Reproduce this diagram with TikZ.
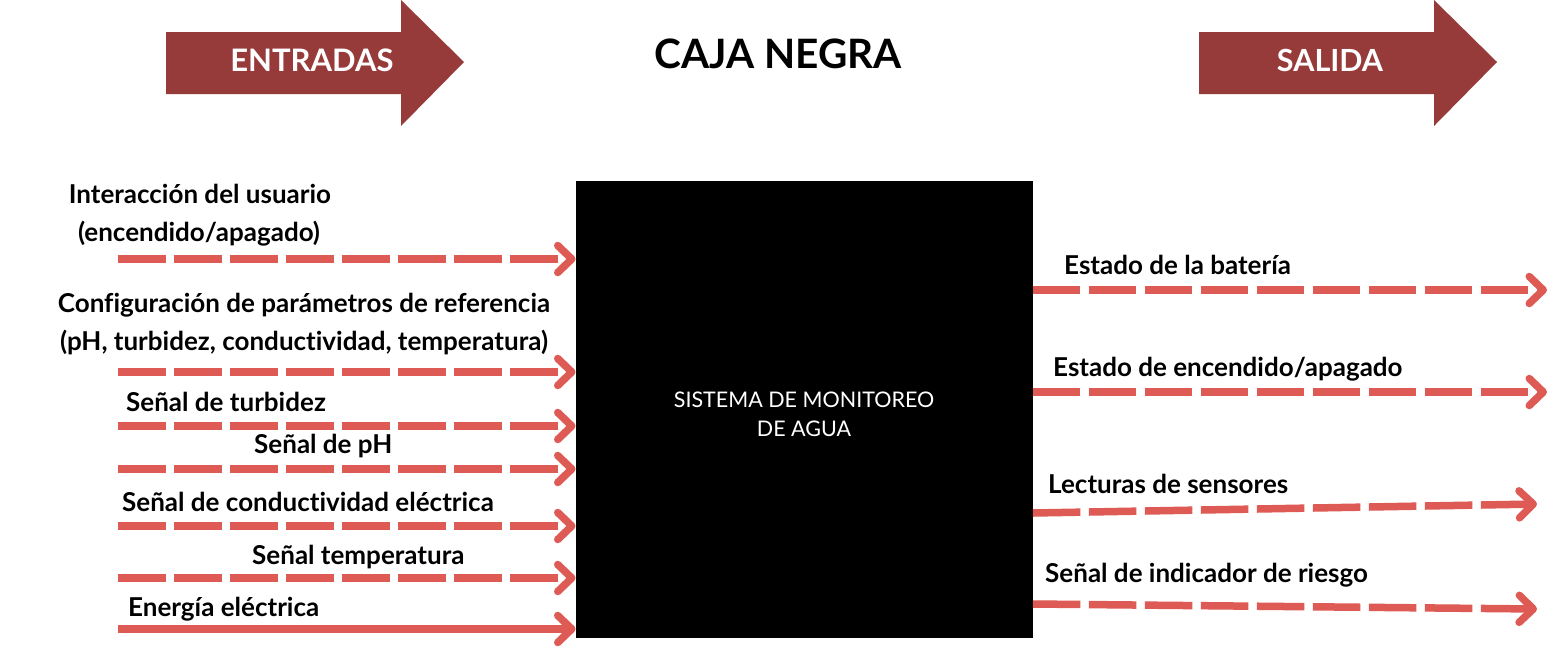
\documentclass[tikz,border=0pt]{standalone}
\usepackage{fontspec}
\setmainfont[Ligatures=NoCommon]{Lato}
\usetikzlibrary{arrows.meta}
\definecolor{bigred}{HTML}{973A3A}
\definecolor{lred}{HTML}{DE5A54}
\begin{document}
\begin{tikzpicture}[x=1pt,y=-1pt,
  bigarrow/.style={fill=bigred,draw=none},
  flow/.style={draw=lred,line width=7.5pt,
    -{Straight Barb[length=14pt,width=27pt,line cap=round,line join=round]}},
  dashflow/.style={flow,dash pattern=on 47.5pt off 8.5pt},
  lblfont/.style={inner sep=0pt,font=\fontsize{26}{30}\selectfont\bfseries},
  lbl/.style={lblfont,anchor=base west},
  clbl/.style={lblfont,anchor=base},
  hdr/.style={anchor=base,inner sep=0pt,text=white,font=\fontsize{31}{34}\selectfont\bfseries}
]
\useasboundingbox[fill=white] (0,0) rectangle (1562,646);
% header arrows
\fill[bigarrow] (166,32) -- (401,32) -- (401,0) -- (464,62) -- (401,126) -- (401,94) -- (166,94) -- cycle;
\fill[bigarrow] (1199,32) -- (1434,32) -- (1434,0) -- (1497,62) -- (1434,126) -- (1434,94) -- (1199,94) -- cycle;
\node[hdr] (hin) at (312,71) {ENTRADAS};
\node[hdr,font=\fontsize{30.5}{34}\selectfont\bfseries] (hout) at (1330,71) {SALIDA};
\node[anchor=base,inner sep=0pt,font=\fontsize{40.5}{44}\selectfont\bfseries] (title) at (778,68) {CAJA NEGRA};
% black box
\node[fill=black,minimum width=457pt,minimum height=457pt,inner sep=0pt,anchor=north west] (box) at (575.5,181) {};
\node[anchor=base,inner sep=0pt,text=white,font=\fontsize{21.5}{29}\selectfont] (boxt1) at (804,407) {SISTEMA DE MONITOREO};
\node[anchor=base,inner sep=0pt,text=white,font=\fontsize{21.5}{29}\selectfont] (boxt2) at (804,436) {DE AGUA};
% input start coordinates
\coordinate (i1) at (118,259);
\coordinate (i2) at (118,372);
\coordinate (i3) at (118,426);
\coordinate (i4) at (118,469);
\coordinate (i5) at (118,526);
\coordinate (i6) at (118,578);
\coordinate (i7) at (118,629);
\foreach \c in {i1,i2,i3,i4,i5,i6}{\draw[dashflow] (\c) -- (\c -| box.west);}
\draw[flow] (i7) -- (i7 -| box.west);
% input labels
\node[clbl] (l1a) at (200,203) {Interacción del usuario};
\node[clbl] (l1b) at (199,241) {(encendido/apagado)};
\node[clbl] (l2a) at (304,312) {Configuración de parámetros de referencia};
\node[clbl] (l2b) at (304,350) {(pH, turbidez, conductividad, temperatura)};
\node[lbl] (l3) at (126,411) {Señal de turbidez};
\node[lbl] (l4) at (254,453) {Señal de pH};
\node[lbl] (l5) at (122,511) {Señal de conductividad eléctrica};
\node[lbl] (l6) at (252,564) {Señal temperatura};
\node[lbl] (l7) at (128,616) {Energía eléctrica};
% outputs
\coordinate (o1s) at (box.east |- 0,290);
\coordinate (o1) at (1547,290);
\coordinate (o2s) at (box.east |- 0,392);
\coordinate (o2) at (1547,392);
\coordinate (o3s) at (box.east |- 0,513);
\coordinate (o3) at (1537,504);
\coordinate (o4s) at (box.east |- 0,604);
\coordinate (o4) at (1537,609);
\draw[dashflow] (o1s) -- (o1);
\draw[dashflow] (o2s) -- (o2);
\draw[dashflow] (o3s) -- (o3);
\draw[dashflow] (o4s) -- (o4);
\node[lbl] (r1) at (1064,274) {Estado de la batería};
\node[lbl] (r2) at (1053,376) {Estado de encendido/apagado};
\node[lbl] (r3) at (1048,493) {Lecturas de sensores};
\node[lbl] (r4) at (1045,582) {Señal de indicador de riesgo};
\end{tikzpicture}
\end{document}
